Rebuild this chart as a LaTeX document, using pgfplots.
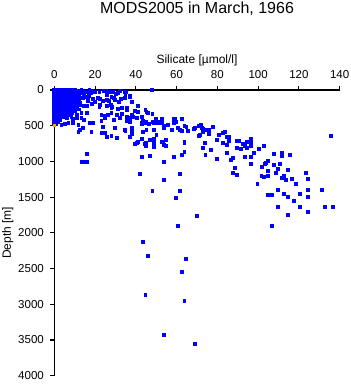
\documentclass[border=0pt]{standalone}
\usepackage{fontspec}
\setmainfont{Liberation Sans}
\usepackage{pgfplots}
\pgfplotsset{compat=1.18}
\definecolor{ptblue}{RGB}{0,0,255}
\definecolor{ptorange}{RGB}{255,165,0}
\begin{document}
\begin{tikzpicture}[x=1pt,y=1pt]
\useasboundingbox (-54.3,-8.3) rectangle (296.7,375.7);
\begin{axis}[
  at={(0,0)}, anchor=south west,
  scale only axis, width=285.4pt, height=285.7pt,
  xmin=0, xmax=140, ymin=0, ymax=4000,
  y dir=reverse,
  axis x line=top, axis y line=left,
  axis line style={-, line width=1.1pt, black},
  tick style={line width=1.1pt, black},
  tick align=outside, major tick length=4pt,
  xtick={0,20,...,140}, ytick={0,500,...,4000},
  /pgf/number format/assume math mode=true,
  /pgf/number format/set thousands separator={},
  tick label style={font=\fontsize{11.5}{12}\selectfont},
  xticklabel style={anchor=base, inner sep=0pt, yshift=8pt},
  yticklabel style={anchor=east, inner sep=0pt, xshift=-6.3pt},
  every axis title/.style={at={(axis description cs:0.5,1)}, anchor=base, yshift=76.4pt, inner sep=0pt, font=\fontsize{16}{16}\selectfont},
  title={MODS2005 in March, 1966},
  every axis x label/.style={at={(axis description cs:0.5,1)}, anchor=base, yshift=26.7pt, inner sep=0pt, font=\fontsize{12}{12}\selectfont},
  xlabel={Silicate [µmol/l]},
  every axis y label/.style={at={(axis description cs:0,0.5)}, xshift=-52.3pt, rotate=90, anchor=north, inner sep=0pt, font=\fontsize{12}{12}\selectfont},
  ylabel={Depth [m]},
  clip=false,
]
\addplot[ptblue, only marks, mark=square*, mark size=1.35pt, mark options={solid, draw=ptblue, fill=ptblue, line width=0pt}] coordinates {
(0,0)(1,0)(2,0)(3,0)(4,0)(5,0)(6,0)(7,0)(8,0)(9,0)(10,0)
(0,25)(1,25)(2,25)(3,25)(4,25)(5,25)(6,25)(7,25)(8,25)(9,25)(10,25)
(0,50)(1,50)(2,50)(3,50)(4,50)(5,50)(6,50)(7,50)(8,50)(9,50)(10,50)
(0,75)(1,75)(2,75)(3,75)(4,75)(5,75)(6,75)(7,75)(8,75)(9,75)(10,75)
(0,100)(1,100)(2,100)(3,100)(4,100)(5,100)(6,100)(7,100)(8,100)(9,100)(10,100)
(0,125)(1,125)(2,125)(3,125)(4,125)(5,125)(6,125)(7,125)(8,125)(9,125)(10,125)
(0,150)(1,150)(2,150)(3,150)(4,150)(5,150)(6,150)(7,150)(8,150)(9,150)(10,150)
(0,175)(1,175)(2,175)(3,175)(4,175)(5,175)(6,175)(7,175)(8,175)(9,175)(10,175)
(0,200)(1,200)(2,200)(3,200)(4,200)(5,200)(6,200)(7,200)(8,200)(9,200)(10,200)
(0,225)(1,225)(2,225)(3,225)(4,225)(5,225)(6,225)(7,225)(8,225)(9,225)
(0,250)(1,250)(2,250)(3,250)(4,250)(5,250)(6,250)(7,250)(8,250)(9,250)
(0,275)(1,275)(2,275)(3,275)(4,275)(5,275)(6,275)(7,275)(8,275)(9,275)
(0,300)(1,300)(2,300)(3,300)(4,300)(5,300)(6,300)(7,300)(8,300)(9,300)
(0,325)(1,325)(2,325)(3,325)(4,325)(5,325)(6,325)(7,325)(8,325)(9,325)
(0,350)(1,350)(2,350)(3,350)
(0,375)(1,375)(2,375)(3,375)
(0,400)(1,400)(2,400)(3,400)
(0,425)(1,425)(2,425)(3,425)
(0,450)(1,450)(2,450)
(0,475)(1,475)
(11,50)(11,100)(12,75)(12,150)(11,175)(13,50)(10,250)(10,300)(11,225)(12,275)
(11.8,14)(13.4,0)(15.1,24)(17.2,0)(19.1,24)(22.1,24)(24.4,14)(27.0,32)(28.9,24)(32.2,14)(35.2,24)
(14.2,116)(16.7,108)(19.1,126)(21.6,116)(24.0,154)(26.0,140)(28.1,94)(29.8,140)(32.6,126)(34.7,116)
(12.6,210)(15.9,220)(18.8,200)(22.1,238)(25.7,220)(28.1,248)(31.4,266)(33.1,256)(35.5,280)
(11.8,32)(13.9,24)(14.7,56)(16.7,24)(18.3,38)(20.0,24)(22.1,32)(25.2,14)(25.7,70)(30.3,60)(31.2,46)(34.8,28)(35.0,84)(37.1,84)
(17.0,84)(15.1,94)(12.9,116)(22.4,126)(26.7,150)(29.3,116)(32.7,126)(31.6,164)(20.1,172)(16.7,154)(11.1,150)(12.6,178)(14.6,220)(18.3,196)(22.4,210)(27.8,210)(28.4,234)
(3.6,350)(5.2,326)(6.1,364)(7.7,354)(11.0,350)(13.4,326)(15.9,326)(23.2,350)(24.9,364)(26.5,350)(28.1,326)(30.6,350)(33.1,336)(35.8,374)
(2.0,410)(4.4,382)(6.1,396)(8.5,382)(9.3,410)(11.0,396)(13.4,396)(14.7,420)(17.5,458)(19.1,458)(23.2,430)(24.9,396)(29.3,420)(32.2,396)(35.8,430)(37.1,452)(40.4,396)(42.9,466)(44.5,458)
(3.6,490)(5.2,476)(6.9,466)(9.3,466)(11.8,490)(12.6,560)(14.2,536)(11.8,584)(18.3,584)(24.0,514)(23.2,606)(24.9,598)(25.7,654)(28.1,644)(29.8,536)(30.9,676)(34.7,560)(38.0,550)(38.0,598)(37.1,654)(42.9,690)(45.0,738)(45.0,784)(49.0,746)
(35.0,24)(37.1,94)(38.0,164)(41.2,220)(35.5,248)(39.6,294)(41.2,304)(38.0,350)(37.1,388)(38.7,374)(42.9,374)(44.8,280)(45.3,312)(45.8,326)
(43.6,434)(42.9,480)(45.3,452)(46.4,480)(49.7,420)(52.7,410)(59.2,410)(64.9,514)(69.0,536)(72.3,536)(71.4,630)
(38.0,536)(38.0,620)(37.1,654)(35.0,574)(43.6,584)(45.3,560)(50.2,630)(52.7,732)(53.5,756)(41.2,724)(40.4,746)(39.6,760)(44.5,760)(63.8,724)(44.8,784)(42.9,942)(42.0,1176)
(16.2,896)(13.4,1004)(14.6,1004)(15.9,1004)
(47.9,4)(48.1,336)(50.0,410)(53.0,406)(58.8,410)(62.8,410)(48.1,452)(49.0,462)(51.0,462)(52.0,452)(53.0,462)(53.9,500)(53.9,536)(55.9,490)(58.8,458)(59.8,452)
(60.8,536)(61.8,560)(62.8,574)(63.8,508)(65.7,578)(68.7,542)(71.0,500)(71.9,494)(72.9,550)(72.9,592)(74.9,560)(76.0,556)(78.0,518)(71.0,644)(75.9,616)
(80.9,626)(82.9,606)(83.9,592)(84.8,662)(85.8,658)(85.8,718)(82.9,742)(84.8,766)(79.9,700)(73.9,746)(72.9,816)(77.0,844)(74.1,914)(79.9,966)(84.8,886)
(87.8,956)(86.8,980)(89.7,710)(90.7,718)(89.7,816)(91.7,826)(92.7,756)(93.7,780)(94.6,808)(94.6,724)(96.6,690)(96.6,732)(96.6,788)(93.7,934)(96.6,934)
(97.8,886)(100.5,826)(102.7,788)(107.9,892)(111.8,886)(111.8,928)(115.7,914)(88.8,1088)(87.8,1162)(89.7,1194)(96.6,1036)(101.9,1074)(104.7,998)(104.0,1018)(103.5,1032)
(104.7,1134)(107.9,1054)(109.9,1102)(110.8,1036)(108.9,1162)(101.7,1208)(102.7,1222)(104.9,1208)(114.8,1124)(112.8,1200)(111.8,1236)(113.8,1264)(116.7,1246)(118.7,1320)(123.6,1162)
(124.6,1250)(99.7,1312)(109.9,1404)(112.8,1460)(114.8,1498)(117.7,1550)(120.6,1460)(124.6,1404)(124.6,1502)(131.4,1404)(104.9,1470)(106.9,1474)(109.9,1642)(114.8,1754)(120.6,1642)
(124.6,1712)(132.7,1642)(136.7,1642)(106.9,1904)(135.8,640)
(46.9,704)(49.0,690)(53.0,732)(54.9,704)(53.9,766)(54.9,788)(49.0,802)(46.9,928)(53.9,1004)(58.8,942)(62.8,914)(63.8,746)(63.8,864)(61.8,1180)(53.9,1264)
(48.1,1414)(61.8,1414)(59.8,1516)(70.0,1768)(60.8,1908)(64.7,2366)(62.8,2552)(49.0,560)(57.9,564)
(43.6,2128)(46.1,2320)(44.8,2870)(63.8,2958)(53.9,3430)(68.9,3552)
};
\addplot[ptorange, only marks, mark=square*, mark size=1.2pt, mark options={solid, draw=ptorange, fill=ptorange, line width=0pt}] coordinates {(0,500)};
\end{axis}
\end{tikzpicture}
\end{document}
